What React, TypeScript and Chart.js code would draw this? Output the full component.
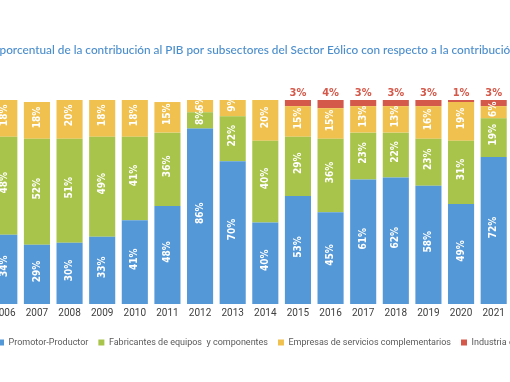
import React, { useEffect, useRef } from 'react';
import { Chart, registerables } from 'chart.js';

Chart.register(...registerables);

const YEARS = ['2006', '2007', '2008', '2009', '2010', '2011', '2012', '2013', '2014', '2015', '2016', '2017', '2018', '2019', '2020', '2021'];
const PROMOTOR = [34, 29, 30, 33, 41, 48, 86, 70, 40, 53, 45, 61, 62, 58, 49, 72];
const FABRICANTES = [48, 52, 51, 49, 41, 36, 8, 22, 40, 29, 36, 23, 22, 23, 31, 19];
const SERVICIOS = [18, 18, 20, 18, 18, 15, 6, 9, 20, 15, 15, 13, 13, 16, 19, 6];
const INDUSTRIA = [null, null, null, null, null, null, null, null, null, 3, 4, 3, 3, 3, 1, 3];
const SERIES_NAMES = [
  'Promotor-Productor',
  'Fabricantes de equipos  y componentes',
  'Empresas de servicios complementarios',
  'Industria eólica conexa',
];
const TITLE = 'porcentual de la contribución al PIB por subsectores del Sector Eólico con respecto a la contribución';

const BLUE = '#5598D8';
const GREEN = '#A8C44A';
const YELLOW = '#F1C14F';
const RED = '#D4594A';

const titlePlugin = {
  id: 'pageTitle',
  afterDraw(chart: any) {
    const ctx = chart.ctx;
    ctx.save();
    ctx.font = '500 11.8px Lato, "Open Sans", sans-serif';
    ctx.fillStyle = '#4A8DCC';
    ctx.textAlign = 'left';
    ctx.textBaseline = 'middle';
    ctx.fillText(TITLE, chart.chartArea.left + 11.5, 50);
    ctx.restore();
  },
};

const labelPlugin = {
  id: 'segLabels',
  afterDatasetsDraw(chart: any) {
    const ctx = chart.ctx;
    chart.data.datasets.forEach((ds: any, di: number) => {
      const meta = chart.getDatasetMeta(di);
      meta.data.forEach((bar: any, i: number) => {
        const v = ds.data[i];
        if (v == null || v === 0) return;
        const { x, y, base } = bar.getProps(['x', 'y', 'base'], true);
        ctx.save();
        if (di === 3) {
          ctx.font = 'bold 11px "DejaVu Sans Condensed", "Liberation Sans Narrow", sans-serif';
          ctx.fillStyle = RED;
          ctx.textAlign = 'center';
          ctx.textBaseline = 'middle';
          ctx.fillText(v + '%', x, y - 7);
        } else {
          ctx.font = 'bold 10px "DejaVu Sans Condensed", "Liberation Sans Narrow", sans-serif';
          ctx.fillStyle = '#FFFFFF';
          ctx.translate(x, (y + base) / 2 - 3);
          ctx.rotate(-Math.PI / 2);
          ctx.textAlign = 'center';
          ctx.textBaseline = 'middle';
          ctx.fillText(v + '%', 0, 0);
        }
        ctx.restore();
      });
    });
  },
};

export default function App() {
  const ref = useRef<HTMLCanvasElement | null>(null);
  useEffect(() => {
    if (!ref.current) return;
    const mk = (label: string, data: any[], color: string) => ({
      label,
      data,
      backgroundColor: color,
      borderWidth: 0,
      barPercentage: 0.8,
      categoryPercentage: 1,
    });
    const chart = new Chart(ref.current, {
      type: 'bar',
      data: {
        labels: YEARS,
        datasets: [
          mk(SERIES_NAMES[0], PROMOTOR, BLUE),
          mk(SERIES_NAMES[1], FABRICANTES, GREEN),
          mk(SERIES_NAMES[2], SERVICIOS, YELLOW),
          mk(SERIES_NAMES[3], INDUSTRIA, RED),
        ],
      },
      options: {
        animation: false,
        responsive: true,
        maintainAspectRatio: false,
        layout: { padding: { top: 100, left: 18, right: 20, bottom: 25 } },
        plugins: {
          title: { display: false },
          tooltip: { enabled: false },
          legend: {
            position: 'bottom',
            align: 'start',
            labels: {
              boxWidth: 6,
              boxHeight: 6,
              padding: 10,
              color: '#5A5A5A',
              font: { size: 9, family: 'Roboto, sans-serif' },
            },
          },
        },
        scales: {
          x: {
            stacked: true,
            grid: { display: false, drawTicks: false },
            border: { display: false },
            ticks: {
              padding: 3,
              color: '#404040',
              font: { size: 10, family: 'Roboto, sans-serif' },
            },
            afterFit: (scale: any) => {
              scale.height = 24;
            },
          },
          y: {
            stacked: true,
            position: 'right',
            min: 0,
            max: 100,
            grid: { display: false, drawTicks: false },
            border: { display: false },
            ticks: { display: false },
            afterFit: (scale: any) => {
              scale.width = 80;
            },
          },
        },
      },
      plugins: [titlePlugin, labelPlugin],
    });
    return () => chart.destroy();
  }, []);
  return (
    <div style={{ position: 'fixed', left: 0, top: 0, width: 510, height: 382, overflow: 'hidden', background: '#fff' }}>
      <div style={{ position: 'absolute', left: -30, top: 0, width: 640, height: 382 }}>
        <canvas ref={ref} />
      </div>
    </div>
  );
}
